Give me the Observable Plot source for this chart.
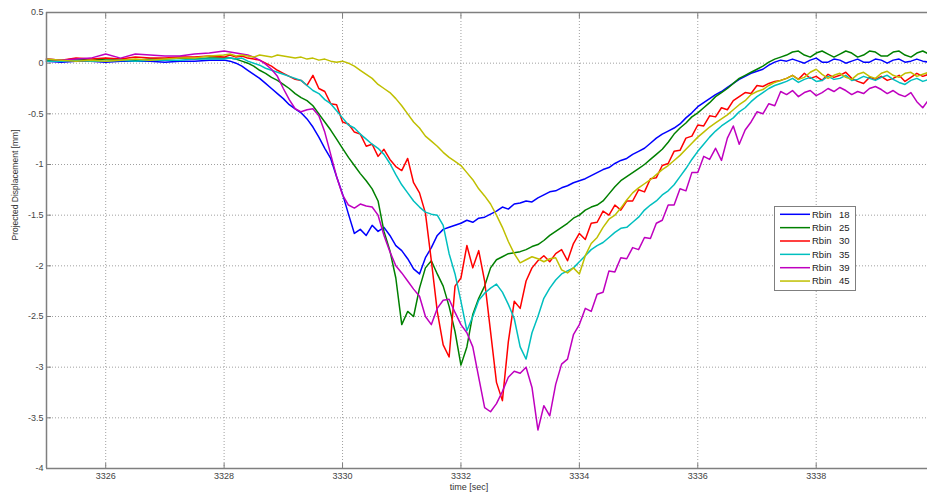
<!DOCTYPE html>
<html>
<head>
<meta charset="utf-8">
<script src="https://cdn.jsdelivr.net/npm/d3@7"></script>
<script src="https://cdn.jsdelivr.net/npm/@observablehq/plot@0.6"></script>
<style>
  body { margin: 0; background: #fff; }
  #chart { width: 927px; height: 495px; }
</style>
</head>
<body>
<div id="chart"></div>
<script>
// Sample times [sec]
const times = [
  3325, 3325.25, 3325.5, 3325.75, 3326, 3326.25, 3326.5, 3326.75, 3327, 3327.25, 3327.5, 3327.75,
  3328, 3328.1, 3328.2, 3328.3, 3328.4, 3328.5, 3328.6, 3328.7, 3328.8, 3328.9,
  3329, 3329.1, 3329.2, 3329.3, 3329.4, 3329.5, 3329.6, 3329.7, 3329.8, 3329.9,
  3330, 3330.1, 3330.2, 3330.3, 3330.4, 3330.5, 3330.6, 3330.7, 3330.8, 3330.9,
  3331, 3331.1, 3331.2, 3331.3, 3331.4, 3331.5, 3331.6, 3331.7, 3331.8, 3331.9,
  3332, 3332.1, 3332.2, 3332.3, 3332.4, 3332.5, 3332.6, 3332.7, 3332.8, 3332.9,
  3333, 3333.1, 3333.2, 3333.3, 3333.4, 3333.5, 3333.6, 3333.7, 3333.8, 3333.9,
  3334, 3334.1, 3334.2, 3334.3, 3334.4, 3334.5, 3334.6, 3334.7, 3334.8, 3334.9,
  3335, 3335.1, 3335.2, 3335.3, 3335.4, 3335.5, 3335.6, 3335.7, 3335.8, 3335.9,
  3336, 3336.1, 3336.2, 3336.3, 3336.4, 3336.5, 3336.6, 3336.7, 3336.8, 3336.9,
  3337, 3337.1, 3337.2, 3337.3, 3337.4, 3337.5, 3337.6, 3337.7, 3337.8, 3337.9,
  3338, 3338.1, 3338.2, 3338.3, 3338.4, 3338.5, 3338.6, 3338.7, 3338.8, 3338.9,
  3339, 3339.1, 3339.2, 3339.3, 3339.4, 3339.5, 3339.6, 3339.7, 3339.8, 3339.9
];

// Projected displacement [mm] per radial bin
const rbin18 = [
  0.02, 0.01, 0.02, 0.02, 0.01, 0.02, 0.02, 0.02, 0.01, 0.02, 0.02, 0.03,
  0.03, 0.02, 0.00, -0.03, -0.07, -0.11, -0.15, -0.20, -0.25, -0.30,
  -0.35, -0.41, -0.45, -0.49, -0.55, -0.63, -0.73, -0.84, -0.94, -1.12,
  -1.29, -1.49, -1.68, -1.64, -1.70, -1.60, -1.66, -1.62, -1.70, -1.80,
  -1.85, -1.93, -2.03, -2.08, -1.92, -1.82, -1.70, -1.64, -1.62, -1.60,
  -1.58, -1.55, -1.57, -1.53, -1.52, -1.49, -1.46, -1.42, -1.44, -1.39,
  -1.38, -1.36, -1.37, -1.33, -1.30, -1.27, -1.26, -1.23, -1.21, -1.18,
  -1.16, -1.14, -1.11, -1.08, -1.05, -1.03, -0.99, -0.96, -0.94, -0.90,
  -0.87, -0.84, -0.79, -0.74, -0.70, -0.67, -0.64, -0.60, -0.54, -0.49,
  -0.43, -0.39, -0.35, -0.31, -0.28, -0.24, -0.20, -0.16, -0.13, -0.10,
  -0.08, -0.06, -0.02, 0.01, 0.03, 0.02, 0.04, 0.02, 0.00, 0.03,
  0.05, 0.01, 0.01, 0.04, 0.03, 0.00, 0.02, 0.04, 0.01, 0.01,
  0.04, 0.03, 0.00, 0.03, 0.04, 0.01, 0.02, 0.04, 0.02, 0.01
];
const rbin25 = [
  0.03, 0.03, 0.04, 0.03, 0.04, 0.04, 0.03, 0.04, 0.04, 0.05, 0.04, 0.05,
  0.05, 0.05, 0.04, 0.02, 0.00, -0.03, -0.07, -0.10, -0.14, -0.17,
  -0.21, -0.25, -0.30, -0.34, -0.37, -0.42, -0.50, -0.58, -0.66, -0.75,
  -0.84, -0.93, -1.01, -1.09, -1.16, -1.24, -1.36, -1.66, -1.85, -2.12,
  -2.58, -2.45, -2.50, -2.22, -2.02, -1.95, -2.08, -2.20, -2.40, -2.65,
  -2.98, -2.80, -2.48, -2.32, -2.20, -2.02, -1.94, -1.91, -1.88, -1.87,
  -1.86, -1.84, -1.81, -1.79, -1.75, -1.70, -1.66, -1.62, -1.58, -1.53,
  -1.50, -1.45, -1.42, -1.40, -1.36, -1.29, -1.22, -1.16, -1.12, -1.08,
  -1.04, -1.00, -0.95, -0.90, -0.85, -0.78, -0.70, -0.64, -0.59, -0.53,
  -0.49, -0.44, -0.39, -0.33, -0.29, -0.25, -0.20, -0.15, -0.12, -0.09,
  -0.06, -0.03, 0.01, 0.04, 0.06, 0.08, 0.11, 0.12, 0.08, 0.06,
  0.10, 0.12, 0.09, 0.06, 0.09, 0.12, 0.10, 0.06, 0.08, 0.12,
  0.11, 0.07, 0.07, 0.11, 0.12, 0.08, 0.06, 0.10, 0.12, 0.09
];
const rbin30 = [
  0.04, 0.03, 0.05, 0.04, 0.05, 0.04, 0.06, 0.05, 0.05, 0.06, 0.06, 0.07,
  0.06, 0.08, 0.06, 0.07, 0.05, 0.04, 0.03, 0.00, -0.03, -0.07,
  -0.10, -0.13, -0.16, -0.17, -0.22, -0.12, -0.25, -0.28, -0.40, -0.41,
  -0.58, -0.60, -0.68, -0.70, -0.82, -0.80, -0.92, -0.85, -0.95, -1.02,
  -1.06, -0.94, -1.18, -1.28, -1.48, -1.95, -2.45, -2.78, -2.90, -2.20,
  -2.12, -1.80, -2.02, -1.85, -2.15, -2.65, -3.15, -3.33, -2.75, -2.35,
  -2.42, -2.15, -2.02, -1.95, -1.90, -1.96, -1.88, -1.84, -1.95, -1.78,
  -1.68, -1.74, -1.58, -1.57, -1.46, -1.50, -1.40, -1.45, -1.36, -1.36,
  -1.25, -1.27, -1.14, -1.13, -1.01, -0.99, -0.87, -0.86, -0.74, -0.72,
  -0.61, -0.62, -0.52, -0.53, -0.44, -0.46, -0.37, -0.33, -0.29, -0.30,
  -0.22, -0.23, -0.20, -0.18, -0.17, -0.15, -0.12, -0.16, -0.10, -0.15,
  -0.13, -0.17, -0.11, -0.14, -0.12, -0.09, -0.15, -0.18, -0.20, -0.14,
  -0.16, -0.13, -0.17, -0.15, -0.12, -0.18, -0.14, -0.10, -0.13, -0.11
];
const rbin35 = [
  0.02, 0.02, 0.03, 0.02, 0.02, 0.03, 0.02, 0.03, 0.03, 0.03, 0.04, 0.04,
  0.04, 0.05, 0.04, 0.05, 0.02, 0.00, -0.02, -0.05, -0.07, -0.09,
  -0.11, -0.13, -0.15, -0.17, -0.22, -0.27, -0.30, -0.36, -0.40, -0.47,
  -0.54, -0.61, -0.64, -0.70, -0.75, -0.80, -0.84, -0.90, -0.99, -1.10,
  -1.20, -1.28, -1.36, -1.42, -1.47, -1.49, -1.50, -1.60, -1.88, -2.08,
  -2.35, -2.64, -2.50, -2.34, -2.27, -2.22, -2.18, -2.26, -2.38, -2.52,
  -2.80, -2.92, -2.66, -2.50, -2.32, -2.22, -2.14, -2.08, -2.05, -2.02,
  -1.96, -1.90, -1.84, -1.80, -1.77, -1.72, -1.67, -1.63, -1.62, -1.57,
  -1.52, -1.45, -1.40, -1.36, -1.30, -1.26, -1.20, -1.12, -1.04, -0.95,
  -0.87, -0.80, -0.73, -0.67, -0.62, -0.58, -0.54, -0.48, -0.44, -0.38,
  -0.33, -0.29, -0.25, -0.22, -0.20, -0.18, -0.15, -0.19, -0.16, -0.14,
  -0.18, -0.17, -0.13, -0.16, -0.15, -0.12, -0.17, -0.16, -0.13, -0.15,
  -0.17, -0.14, -0.12, -0.16, -0.19, -0.21, -0.17, -0.15, -0.18, -0.16
];
const rbin39 = [
  0.04, 0.03, 0.04, 0.05, 0.09, 0.05, 0.09, 0.08, 0.07, 0.07, 0.09, 0.10,
  0.12, 0.11, 0.10, 0.09, 0.08, 0.06, 0.03, -0.01, -0.06, -0.13,
  -0.25, -0.36, -0.45, -0.48, -0.46, -0.45, -0.52, -0.68, -0.90, -1.12,
  -1.30, -1.40, -1.43, -1.39, -1.41, -1.42, -1.50, -1.70, -1.86, -2.00,
  -2.07, -2.15, -2.23, -2.30, -2.50, -2.58, -2.42, -2.34, -2.33, -2.46,
  -2.58, -2.66, -2.80, -3.10, -3.40, -3.44, -3.36, -3.24, -3.10, -3.04,
  -3.06, -3.00, -3.20, -3.62, -3.38, -3.48, -3.17, -2.97, -2.92, -2.68,
  -2.58, -2.42, -2.45, -2.28, -2.26, -2.05, -2.06, -1.92, -1.93, -1.82,
  -1.84, -1.72, -1.73, -1.58, -1.55, -1.40, -1.40, -1.24, -1.26, -1.08,
  -1.08, -0.92, -0.95, -0.84, -0.96, -0.74, -0.62, -0.80, -0.66, -0.58,
  -0.48, -0.50, -0.40, -0.42, -0.28, -0.31, -0.27, -0.33, -0.29, -0.27,
  -0.32, -0.29, -0.25, -0.28, -0.24, -0.27, -0.31, -0.28, -0.30, -0.25,
  -0.23, -0.26, -0.30, -0.27, -0.31, -0.33, -0.29, -0.38, -0.44, -0.36
];
const rbin45 = [
  0.04, 0.03, 0.02, 0.03, 0.02, 0.03, 0.04, 0.03, 0.04, 0.05, 0.05, 0.07,
  0.08, 0.09, 0.07, 0.08, 0.07, 0.06, 0.08, 0.07, 0.06, 0.08,
  0.07, 0.06, 0.05, 0.06, 0.04, 0.05, 0.03, 0.04, 0.02, 0.01,
  0.02, 0.00, -0.03, -0.07, -0.11, -0.15, -0.21, -0.25, -0.29, -0.35,
  -0.42, -0.50, -0.58, -0.64, -0.72, -0.77, -0.82, -0.88, -0.93, -0.97,
  -1.01, -1.08, -1.15, -1.24, -1.31, -1.39, -1.50, -1.62, -1.76, -1.88,
  -1.97, -1.94, -1.91, -1.93, -1.96, -1.93, -1.92, -2.04, -2.07, -2.02,
  -2.08, -1.90, -1.78, -1.72, -1.62, -1.54, -1.50, -1.43, -1.35, -1.28,
  -1.23, -1.19, -1.15, -1.10, -1.05, -1.01, -0.96, -0.91, -0.85, -0.79,
  -0.73, -0.68, -0.63, -0.59, -0.55, -0.51, -0.46, -0.41, -0.37, -0.31,
  -0.28, -0.26, -0.22, -0.19, -0.17, -0.15, -0.12, -0.16, -0.14, -0.09,
  -0.06, -0.11, -0.15, -0.12, -0.10, -0.14, -0.16, -0.11, -0.09, -0.13,
  -0.15, -0.10, -0.08, -0.12, -0.14, -0.10, -0.09, -0.13, -0.11, -0.09
];

const bins = ["18", "25", "30", "35", "39", "45"];
const seriesValues = [rbin18, rbin25, rbin30, rbin35, rbin39, rbin45];
const colors = ["#0000ff", "#008000", "#ff0000", "#00bfbf", "#bf00bf", "#bfbf00"];
const xTicks = [3326, 3328, 3330, 3332, 3334, 3336, 3338];
const yTicks = [0.5, 0, -0.5, -1, -1.5, -2, -2.5, -3, -3.5, -4];

// Long-format table for the line mark
const rows = [];
seriesValues.forEach((vals, i) => {
  vals.forEach((v, j) => rows.push({t: times[j], v, bin: bins[i]}));
});

const axisColor = "#7f7f7f";
const gridStyle = {stroke: "#a0a0a0", strokeOpacity: 1, strokeDasharray: "1,2", strokeWidth: 1};

const chart = Plot.plot({
  width: 927,
  height: 495,
  marginLeft: 46,
  marginRight: 0,
  marginTop: 12,
  marginBottom: 27,
  style: {fontFamily: "'Liberation Sans', Arial, sans-serif", fontSize: "9px", color: "#333", background: "#fff"},
  x: {domain: [3325, 3339.88]},
  y: {domain: [-4, 0.5]},
  color: {domain: bins, range: colors},
  marks: [
    Plot.gridX(xTicks, gridStyle),
    Plot.gridY(yTicks, gridStyle),
    Plot.lineY(rows, {x: "t", y: "v", z: "bin", stroke: "bin", strokeWidth: 1.5}),
    Plot.ruleY([0.5], {stroke: axisColor, strokeWidth: 1.5}),
    Plot.ruleY([-4], {stroke: axisColor, strokeWidth: 1.5}),
    Plot.ruleX([3325], {stroke: axisColor, strokeWidth: 1.5}),
    Plot.axisX(xTicks, {anchor: "bottom", tickSize: -5, tickPadding: 9, stroke: axisColor, fill: "#444", label: null, tickFormat: d => String(d)}),
    Plot.axisX(xTicks, {anchor: "top", tickSize: -5, stroke: axisColor, label: null, tickFormat: () => ""}),
    Plot.axisY(yTicks, {anchor: "left", tickSize: -5, tickPadding: 8, stroke: axisColor, fill: "#444", label: null, tickFormat: d => String(d)}),
    Plot.text(["time [sec]"], {frameAnchor: "bottom", dy: 21, dx: -18, fill: "#333", fontSize: 9}),
    Plot.text(["Projected Displacement [mm]"], {frameAnchor: "left", rotate: -90, dx: -31, fill: "#333", fontSize: 8.5})
  ]
});

document.getElementById("chart").appendChild(chart);

// Legend box
const svg = d3.select(chart);
const lg = svg.append("g")
  .attr("font-family", "'Liberation Sans', Arial, sans-serif")
  .attr("font-size", 9.5)
  .attr("text-anchor", "start")
  .attr("fill", "#222");
lg.append("rect").attr("x", 774.5).attr("y", 206.5).attr("width", 81).attr("height", 84)
  .attr("fill", "#fff").attr("stroke", axisColor).attr("stroke-width", 1);
bins.forEach((b, i) => {
  const y = 214.3 + i * 13.35;
  lg.append("line").attr("x1", 780).attr("x2", 810).attr("y1", y).attr("y2", y)
    .attr("stroke", colors[i]).attr("stroke-width", 1.5);
  lg.append("text").attr("x", 812).attr("y", y).attr("dy", "0.35em").text("Rbin");
  lg.append("text").attr("x", 839).attr("y", y).attr("dy", "0.35em").text(b);
});
</script>
</body>
</html>
